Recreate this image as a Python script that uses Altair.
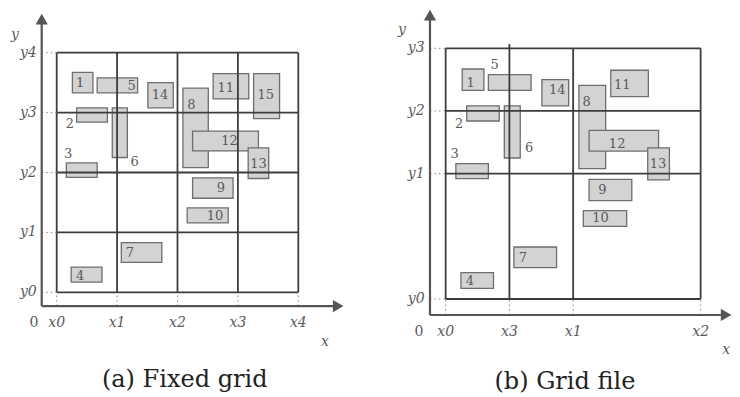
import altair as alt
import pandas as pd

# ---------------- data (grid units) ----------------
rect_ids = [1, 2, 3, 4, 5, 6, 7, 8, 9, 10, 11, 12, 13, 14, 15]
rect_x1 = [0.26, 0.33, 0.16, 0.24, 0.67, 0.92, 1.07, 2.09, 2.25, 2.16, 2.59, 2.25, 3.17, 1.51, 3.26]
rect_x2 = [0.60, 0.84, 0.67, 0.75, 1.34, 1.17, 1.74, 2.51, 2.92, 2.84, 3.18, 3.34, 3.51, 1.93, 3.69]
rect_y1 = [3.33, 2.84, 1.92, 0.17, 3.33, 2.25, 0.50, 2.08, 1.57, 1.16, 3.23, 2.36, 1.90, 3.08, 2.90]
rect_y2 = [3.67, 3.08, 2.16, 0.42, 3.58, 3.08, 0.83, 3.41, 1.91, 1.41, 3.65, 2.69, 2.41, 3.50, 3.65]

# label anchor positions, panel (a) and panel (b)
lab_a_x = [0.39, 0.22, 0.19, 0.39, 1.24, 1.29, 1.21, 2.23, 2.72, 2.62, 2.80, 2.86, 3.34, 1.71, 3.46]
lab_a_y = [3.49, 2.81, 2.31, 0.28, 3.44, 2.18, 0.65, 3.13, 1.74, 1.28, 3.41, 2.52, 2.15, 3.30, 3.29]
lab_b_x = [0.39, 0.21, 0.14, 0.38, 0.77, 1.31, 1.21, 2.21, 2.46, 2.43, 2.77, 2.69, 3.33, 1.75]
lab_b_y = [3.45, 2.80, 2.31, 0.28, 3.73, 2.41, 0.65, 3.15, 1.74, 1.29, 3.41, 2.48, 2.15, 3.34]

# grid split positions and tick names
grid_a_x = [0, 1, 2, 3, 4]
grid_a_xname = ["x0", "x1", "x2", "x3", "x4"]
grid_a_y = [0, 1, 2, 3, 4]
grid_a_yname = ["y0", "y1", "y2", "y3", "y4"]

grid_b_x = [0, 1, 2, 4]
grid_b_xname = ["x0", "x3", "x1", "x2"]
grid_b_y = [0, 2, 3, 4]
grid_b_yname = ["y0", "y1", "y2", "y3"]

captions = ["(a) Fixed grid", "(b) Grid file"]

GRID_C = "#3d3d3d"
AXIS_C = "#555555"
TXT_C = "#5a5a5a"
SERIF = "DejaVu Serif"


def panel(n_rects, lab_x, lab_y, gx, gxn, gy, gyn, caption,
          xdom, ydom, origin, tips, ylab_x, xlab_y, zero_x, axname, cap_pos,
          extra_top=None):
    w, h = 362, 381
    X = lambda f="x": alt.X(f"{f}:Q", scale=alt.Scale(domain=xdom, nice=False, zero=False), axis=None)
    Y = lambda f="y": alt.Y(f"{f}:Q", scale=alt.Scale(domain=ydom, nice=False, zero=False), axis=None)

    rects = pd.DataFrame({"id": rect_ids[:n_rects], "x": rect_x1[:n_rects], "x2": rect_x2[:n_rects],
                          "y": rect_y1[:n_rects], "y2": rect_y2[:n_rects]})
    labels = pd.DataFrame({"id": [str(i) for i in rect_ids[:n_rects]], "x": lab_x, "y": lab_y})

    ox, oy = origin
    gmax_x, gmax_y = max(gx), max(gy)
    top_x = {v: gmax_y for v in gx}
    if extra_top is not None:
        top_x[extra_top[0]] = extra_top[1]
    seg_rows = []
    for v in gx:
        seg_rows.append({"x": v, "x2": v, "y": 0, "y2": top_x[v]})
    for v in gy:
        seg_rows.append({"x": 0, "x2": gmax_x, "y": v, "y2": v})
    segs = pd.DataFrame(seg_rows)

    dots = pd.DataFrame([{"x": v, "x2": v, "y": oy, "y2": 0} for v in gx] +
                        [{"x": ox, "x2": 0, "y": v, "y2": v} for v in gy])

    axes = pd.DataFrame([{"x": ox, "x2": tips[0], "y": oy, "y2": oy},
                         {"x": ox, "x2": ox, "y": oy, "y2": tips[1]}])
    arr_r = pd.DataFrame({"x": [tips[0]], "y": [oy]})
    arr_u = pd.DataFrame({"x": [ox], "y": [tips[1]]})

    xt = pd.DataFrame({"t": gxn, "x": gx, "y": [xlab_y] * len(gx)})
    yt = pd.DataFrame({"t": gyn, "x": [ylab_x] * len(gy), "y": gy})
    zt = pd.DataFrame({"t": ["0"], "x": [zero_x], "y": [xlab_y]})
    names = pd.DataFrame({"t": ["y", "x"], "x": [axname[0], axname[2]], "y": [axname[1], axname[3]]})
    cap = pd.DataFrame({"t": [caption], "x": [cap_pos[0]], "y": [cap_pos[1]]})

    layers = [
        alt.Chart(rects).mark_rect(fill="#d3d3d3", stroke="#6e6e6e", strokeWidth=1.3).encode(
            x=X(), x2="x2", y=Y(), y2="y2"),
        alt.Chart(segs).mark_rule(color=GRID_C, strokeWidth=1.8).encode(
            x=X(), x2="x2", y=Y(), y2="y2"),
        alt.Chart(dots).mark_rule(color="#888888", strokeWidth=1, strokeDash=[1.5, 3]).encode(
            x=X(), x2="x2", y=Y(), y2="y2"),
        alt.Chart(axes).mark_rule(color=AXIS_C, strokeWidth=2.2).encode(
            x=X(), x2="x2", y=Y(), y2="y2"),
        alt.Chart(arr_r).mark_point(shape="triangle-right", filled=True, size=150, color=AXIS_C, opacity=1).encode(
            x=X(), y=Y()),
        alt.Chart(arr_u).mark_point(shape="triangle-up", filled=True, size=150, color=AXIS_C, opacity=1).encode(
            x=X(), y=Y()),
        alt.Chart(labels).mark_text(font=SERIF, fontSize=13, color=TXT_C).encode(
            x=X(), y=Y(), text="id:N"),
        alt.Chart(xt).mark_text(font=SERIF, fontStyle="italic", fontSize=14, color=TXT_C).encode(
            x=X(), y=Y(), text="t:N"),
        alt.Chart(yt).mark_text(font=SERIF, fontStyle="italic", fontSize=14, color=TXT_C, align="right").encode(
            x=X(), y=Y(), text="t:N"),
        alt.Chart(zt).mark_text(font=SERIF, fontSize=14, color=TXT_C).encode(
            x=X(), y=Y(), text="t:N"),
        alt.Chart(names).mark_text(font=SERIF, fontStyle="italic", fontSize=14, color=TXT_C).encode(
            x=X(), y=Y(), text="t:N"),
        alt.Chart(cap).mark_text(font=SERIF, fontSize=24, color="#222222").encode(
            x=X(), y=Y(), text="t:N"),
    ]
    return alt.layer(*layers).properties(width=w, height=h)


pa = panel(15, lab_a_x, lab_a_y, grid_a_x, grid_a_xname, grid_a_y, grid_a_yname, captions[0],
           xdom=[-0.806, 5.187], ydom=[-1.614, 4.746],
           origin=(-0.248, -0.229), tips=(4.66, 4.56),
           ylab_x=-0.33, xlab_y=-0.51, zero_x=-0.376,
           axname=(-0.69, 4.30, 4.44, -0.83), cap_pos=(2.12, -1.47))

pb = panel(14, lab_b_x, lab_b_y, grid_b_x, grid_b_xname, grid_b_y, grid_b_yname, captions[1],
           xdom=[-1.187, 4.492], ydom=[-1.436, 4.643],
           origin=(-0.246, -0.255), tips=(4.40, 4.53),
           ylab_x=-0.33, xlab_y=-0.527, zero_x=-0.419,
           axname=(-0.685, 4.29, 4.40, -0.81), cap_pos=(1.87, -1.32),
           extra_top=(1, 4.07))

chart = alt.hconcat(pa, pb, spacing=0).properties(padding=0).configure_view(stroke=None)
chart.save("out.html", embed_options={"renderer": "svg", "actions": False})
